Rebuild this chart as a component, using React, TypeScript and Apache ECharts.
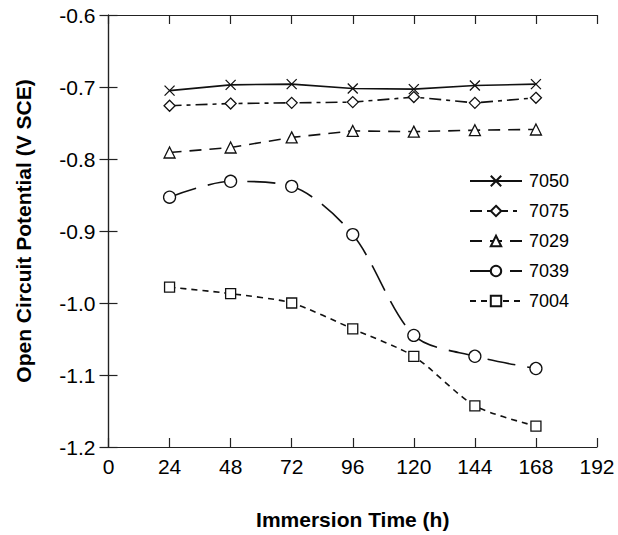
import React, { useEffect, useRef } from "react";
import * as echarts from "echarts";

const hours = [24, 48, 72, 96, 120, 144, 168];
const s7050 = [-0.705, -0.697, -0.696, -0.702, -0.703, -0.698, -0.696];
const s7075 = [-0.726, -0.723, -0.722, -0.721, -0.714, -0.722, -0.715];
const s7029 = [-0.791, -0.784, -0.77, -0.761, -0.762, -0.76, -0.759];
const s7039 = [-0.853, -0.831, -0.838, -0.905, -1.045, -1.074, -1.091];
const s7004 = [-0.978, -0.987, -1.0, -1.036, -1.074, -1.143, -1.171];
const seriesNames = ["7050", "7075", "7029", "7039", "7004"];

const FONT = "'Liberation Sans', Arial, Helvetica, sans-serif";

function pairs(vals: number[]) {
  return hours.map((h, i) => [h, vals[i]]);
}

export default function App() {
  const ref = useRef<HTMLDivElement>(null);
  useEffect(() => {
    if (!ref.current) return;
    const chart = echarts.init(ref.current, undefined, { renderer: "svg" });
    const axisLine = { show: true, lineStyle: { color: "#222", width: 1.2 } };
    const tick = { show: true, inside: true, length: 9, lineStyle: { color: "#222", width: 1.2 } };
    const mk = (
      name: string,
      vals: number[],
      symbol: string,
      symbolSize: number,
      dash: any,
      smooth: number
    ) => ({
      name,
      type: "line",
      data: pairs(vals),
      symbol,
      symbolSize,
      smooth,
      showSymbol: true,
      lineStyle: { color: "#111", width: 1.6, type: dash },
      itemStyle: { color: "#fff", borderColor: "#111", borderWidth: 1.3 },
      z: 3,
    });
    chart.setOption({
      animation: false,
      backgroundColor: "#fff",
      textStyle: { fontFamily: FONT, color: "#000" },
      grid: { left: 108.5, right: 21, top: 15, bottom: 85 },
      xAxis: [
        {
          type: "value",
          min: 0,
          max: 192,
          interval: 24,
          position: "bottom",
          axisLine,
          axisTick: tick,
          splitLine: { show: false },
          axisLabel: { fontSize: 21, color: "#000", margin: 9, fontFamily: FONT },
          name: "Immersion Time (h)",
          nameLocation: "middle",
          nameGap: 62,
          nameTextStyle: { fontSize: 21, fontWeight: "bold", color: "#000", fontFamily: FONT },
        },
        {
          type: "value",
          min: 0,
          max: 192,
          interval: 24,
          position: "top",
          axisLine,
          axisTick: tick,
          splitLine: { show: false },
          axisLabel: { show: false },
        },
      ],
      yAxis: [
        {
          type: "value",
          min: -1.2,
          max: -0.6,
          interval: 0.1,
          position: "left",
          axisLine,
          axisTick: tick,
          splitLine: { show: false },
          axisLabel: {
            fontSize: 21,
            color: "#000",
            margin: 13,
            fontFamily: FONT,
            formatter: (v: number) => v.toFixed(1),
          },
          name: "Open Circuit Potential (V SCE)",
          nameLocation: "middle",
          nameGap: 75,
          nameTextStyle: { fontSize: 21, fontWeight: "bold", color: "#000", fontFamily: FONT },
        },
        {
          type: "value",
          min: -1.2,
          max: -0.6,
          interval: 0.1,
          position: "right",
          axisLine,
          axisTick: tick,
          splitLine: { show: false },
          axisLabel: { show: false },
        },
      ],
      legend: {
        orient: "vertical",
        left: 469,
        top: 172,
        padding: 0,
        itemWidth: 52,
        itemHeight: 13,
        itemGap: 12,
        data: seriesNames,
        textStyle: { fontSize: 18, color: "#000", fontFamily: FONT, padding: [0, 0, 0, 2] },
      },
      series: [
        mk("7050", s7050, "path://M0,0L10,10M0,10L10,0", 10, "solid", 0),
        mk("7075", s7075, "diamond", 11, [12, 5, 4, 5], 0),
        mk("7029", s7029, "triangle", 11, [12, 8], 0),
        mk("7039", s7039, "circle", 12, [28, 12], 0.3),
        mk("7004", s7004, "rect", 10, [6, 5], 0.25),
      ],
    });
    return () => chart.dispose();
  }, []);
  return (
    <div
      ref={ref}
      style={{ position: "fixed", left: 0, top: 0, width: 618, height: 535, background: "#fff" }}
    />
  );
}
